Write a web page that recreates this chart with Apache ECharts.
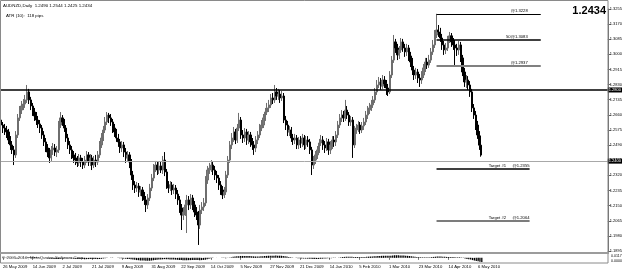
<!DOCTYPE html>
<html><head><meta charset="utf-8">
<script src="https://cdn.jsdelivr.net/npm/echarts@6/dist/echarts.min.js"></script>
<style>html,body{margin:0;padding:0;background:#fff}#c{width:625px;height:271px}</style>
</head><body><div id="c"></div>
<script>
const symbolTitle = 'AUDNZD,Daily';
const lastQuote = ['1.2490', '1.2544', '1.2425', '1.2434'];
const atrText = 'ATR (10):  118 pips';
const copyrightText = '\u00a9 2001-2010, MetaQuotes Software Corp.';
const tickLabels = ['26 May 2009','14 Jun 2009','2 Jul 2009','21 Jul 2009','9 Aug 2009','31 Aug 2009','22 Sep 2009','14 Oct 2009','5 Nov 2009','27 Nov 2009','21 Dec 2009','14 Jan 2010','5 Feb 2010','1 Mar 2010','23 Mar 2010','14 Apr 2010','6 May 2010'];
const opens = [
1.2631,1.2603,1.2586,1.2575,1.2564,1.2519,1.2491,1.2463,1.2435,1.2547,
1.2643,1.2687,1.2710,1.2721,1.2744,1.2789,1.2744,1.2710,1.2676,1.2654,
1.2631,1.2609,1.2586,1.2547,1.2508,1.2474,1.2451,1.2418,1.2463,1.2474,
1.2451,1.2463,1.2603,1.2643,1.2620,1.2586,1.2530,1.2491,1.2463,1.2435,
1.2418,1.2406,1.2390,1.2418,1.2395,1.2378,1.2406,1.2435,1.2395,1.2418,
1.2378,1.2406,1.2395,1.2435,1.2491,1.2530,1.2575,1.2620,1.2659,1.2643,
1.2620,1.2586,1.2564,1.2530,1.2508,1.2474,1.2491,1.2451,1.2418,1.2435,
1.2395,1.2322,1.2266,1.2249,1.2260,1.2227,1.2238,1.2204,1.2182,1.2154,
1.2193,1.2249,1.2305,1.2361,1.2378,1.2350,1.2373,1.2350,1.2406,1.2339,
1.2266,1.2249,1.2266,1.2238,1.2249,1.2215,1.2182,1.2137,1.2097,1.2114,
1.2154,1.2182,1.2154,1.2193,1.2154,1.2114,1.2097,1.2041,1.2125,1.2142,
1.2165,1.2294,1.2350,1.2361,1.2378,1.2350,1.2322,1.2305,1.2266,1.2238,
1.2210,1.2227,1.2322,1.2406,1.2491,1.2530,1.2564,1.2519,1.2586,1.2631,
1.2547,1.2530,1.2564,1.2519,1.2547,1.2508,1.2491,1.2474,1.2519,1.2547,
1.2586,1.2603,1.2643,1.2676,1.2699,1.2716,1.2755,1.2744,1.2789,1.2766,
1.2777,1.2755,1.2766,1.2631,1.2603,1.2564,1.2575,1.2530,1.2519,1.2530,
1.2491,1.2519,1.2502,1.2530,1.2491,1.2519,1.2508,1.2463,1.2378,1.2406,
1.2435,1.2463,1.2502,1.2519,1.2491,1.2474,1.2508,1.2463,1.2491,1.2519,
1.2508,1.2547,1.2603,1.2643,1.2659,1.2643,1.2687,1.2659,1.2620,1.2631,
1.2491,1.2575,1.2586,1.2603,1.2575,1.2598,1.2620,1.2659,1.2687,1.2699,
1.2716,1.2744,1.2789,1.2828,1.2845,1.2822,1.2856,1.2834,1.2811,1.2789,
1.2884,1.2968,1.3070,1.3036,1.2997,1.3025,1.3070,1.3036,1.3014,1.3036,
1.2991,1.2957,1.2912,1.2884,1.2901,1.2867,1.2856,1.2884,1.2924,1.2957,
1.2940,1.2968,1.3014,1.3053,1.3109,1.3137,1.3126,1.3092,1.3053,1.3025,
1.3036,1.3081,1.3104,1.3070,1.3053,1.3036,1.3025,1.3053,1.2980,1.2901,
1.2845,1.2856,1.2828,1.2789,1.2699,1.2659,1.2603,1.2547,1.2490];
const highs = [
1.2659,1.2620,1.2609,1.2598,1.2581,1.2541,1.2513,1.2485,1.2569,1.2665,
1.2710,1.2738,1.2749,1.2772,1.2828,1.2806,1.2761,1.2727,1.2699,1.2676,
1.2654,1.2631,1.2603,1.2569,1.2530,1.2496,1.2474,1.2485,1.2502,1.2496,
1.2485,1.2626,1.2676,1.2659,1.2637,1.2603,1.2553,1.2513,1.2485,1.2457,
1.2446,1.2429,1.2440,1.2435,1.2418,1.2429,1.2457,1.2451,1.2440,1.2435,
1.2429,1.2435,1.2457,1.2513,1.2558,1.2598,1.2648,1.2676,1.2671,1.2665,
1.2637,1.2609,1.2581,1.2553,1.2525,1.2513,1.2508,1.2474,1.2457,1.2451,
1.2412,1.2345,1.2288,1.2283,1.2277,1.2260,1.2255,1.2227,1.2204,1.2215,
1.2272,1.2328,1.2384,1.2401,1.2395,1.2395,1.2395,1.2429,1.2451,1.2356,
1.2288,1.2288,1.2283,1.2272,1.2266,1.2238,1.2204,1.2159,1.2142,1.2182,
1.2210,1.2204,1.2215,1.2210,1.2176,1.2142,1.2120,1.2154,1.2170,1.2193,
1.2316,1.2373,1.2390,1.2406,1.2395,1.2373,1.2345,1.2322,1.2288,1.2260,
1.2255,1.2345,1.2429,1.2513,1.2558,1.2592,1.2581,1.2609,1.2671,1.2648,
1.2575,1.2586,1.2581,1.2569,1.2564,1.2530,1.2513,1.2541,1.2569,1.2609,
1.2631,1.2665,1.2699,1.2727,1.2744,1.2777,1.2783,1.2828,1.2811,1.2806,
1.2800,1.2794,1.2783,1.2654,1.2626,1.2598,1.2592,1.2553,1.2553,1.2547,
1.2536,1.2541,1.2553,1.2547,1.2541,1.2541,1.2525,1.2480,1.2429,1.2457,
1.2485,1.2525,1.2547,1.2541,1.2513,1.2530,1.2525,1.2513,1.2541,1.2541,
1.2569,1.2626,1.2665,1.2687,1.2682,1.2744,1.2710,1.2676,1.2654,1.2648,
1.2598,1.2609,1.2626,1.2620,1.2620,1.2643,1.2682,1.2710,1.2727,1.2744,
1.2766,1.2811,1.2856,1.2873,1.2867,1.2884,1.2878,1.2856,1.2834,1.2906,
1.2991,1.3109,1.3087,1.3059,1.3047,1.3092,1.3087,1.3059,1.3059,1.3053,
1.3014,1.2980,1.2935,1.2924,1.2918,1.2890,1.2906,1.2946,1.2980,1.2980,
1.2997,1.3036,1.3081,1.3137,1.3228,1.3165,1.3149,1.3115,1.3075,1.3064,
1.3104,1.3126,1.3120,1.3092,1.3081,1.3059,1.3075,1.3070,1.2997,1.2924,
1.2884,1.2878,1.2850,1.2806,1.2721,1.2682,1.2626,1.2569,1.2544];
const lows = [
1.2564,1.2558,1.2547,1.2530,1.2496,1.2463,1.2440,1.2378,1.2418,1.2530,
1.2626,1.2665,1.2687,1.2699,1.2727,1.2721,1.2687,1.2654,1.2626,1.2603,
1.2586,1.2558,1.2525,1.2485,1.2451,1.2423,1.2390,1.2401,1.2435,1.2429,
1.2423,1.2446,1.2586,1.2598,1.2564,1.2508,1.2468,1.2440,1.2412,1.2390,
1.2378,1.2367,1.2373,1.2367,1.2356,1.2361,1.2390,1.2373,1.2373,1.2350,
1.2361,1.2367,1.2378,1.2418,1.2474,1.2513,1.2558,1.2603,1.2614,1.2598,
1.2558,1.2536,1.2508,1.2480,1.2446,1.2451,1.2423,1.2390,1.2395,1.2361,
1.2294,1.2238,1.2221,1.2227,1.2199,1.2204,1.2176,1.2154,1.2114,1.2131,
1.2176,1.2232,1.2288,1.2339,1.2322,1.2328,1.2333,1.2328,1.2316,1.2244,
1.2221,1.2232,1.2210,1.2215,1.2187,1.2154,1.2109,1.2013,1.2069,1.2092,
1.1996,1.2125,1.2131,1.2125,1.2086,1.2069,1.1929,1.2019,1.2103,1.2120,
1.2148,1.2272,1.2328,1.2339,1.2322,1.2294,1.2277,1.2238,1.2210,1.2187,
1.2193,1.2210,1.2305,1.2390,1.2468,1.2508,1.2496,1.2502,1.2569,1.2525,
1.2502,1.2508,1.2491,1.2496,1.2480,1.2463,1.2435,1.2451,1.2496,1.2530,
1.2569,1.2586,1.2626,1.2659,1.2676,1.2699,1.2721,1.2727,1.2744,1.2744,
1.2727,1.2738,1.2614,1.2575,1.2541,1.2541,1.2508,1.2491,1.2496,1.2468,
1.2468,1.2474,1.2480,1.2463,1.2468,1.2480,1.2440,1.2322,1.2356,1.2384,
1.2412,1.2446,1.2485,1.2463,1.2446,1.2457,1.2435,1.2440,1.2468,1.2480,
1.2485,1.2530,1.2586,1.2620,1.2620,1.2626,1.2637,1.2598,1.2598,1.2418,
1.2474,1.2553,1.2564,1.2553,1.2558,1.2575,1.2603,1.2637,1.2665,1.2682,
1.2699,1.2727,1.2772,1.2811,1.2800,1.2806,1.2811,1.2772,1.2766,1.2777,
1.2867,1.2952,1.3008,1.2968,1.2974,1.3008,1.3014,1.2986,1.2991,1.2963,
1.2929,1.2884,1.2856,1.2862,1.2839,1.2817,1.2834,1.2867,1.2901,1.2918,
1.2924,1.2952,1.2997,1.3036,1.3092,1.3098,1.3070,1.3025,1.2997,1.3002,
1.3019,1.3064,1.3042,1.3025,1.2940,1.2991,1.2997,1.2957,1.2878,1.2817,
1.2811,1.2800,1.2761,1.2676,1.2637,1.2575,1.2525,1.2463,1.2425];
const closes = [
1.2603,1.2586,1.2575,1.2564,1.2519,1.2491,1.2463,1.2435,1.2547,1.2643,
1.2687,1.2710,1.2721,1.2744,1.2789,1.2744,1.2710,1.2676,1.2654,1.2631,
1.2609,1.2586,1.2547,1.2508,1.2474,1.2451,1.2418,1.2463,1.2474,1.2451,
1.2463,1.2603,1.2643,1.2620,1.2586,1.2530,1.2491,1.2463,1.2435,1.2418,
1.2406,1.2390,1.2418,1.2395,1.2378,1.2406,1.2435,1.2395,1.2418,1.2378,
1.2406,1.2395,1.2435,1.2491,1.2530,1.2575,1.2620,1.2659,1.2643,1.2620,
1.2586,1.2564,1.2530,1.2508,1.2474,1.2491,1.2451,1.2418,1.2435,1.2395,
1.2322,1.2266,1.2249,1.2260,1.2227,1.2238,1.2204,1.2182,1.2154,1.2193,
1.2249,1.2305,1.2361,1.2378,1.2350,1.2373,1.2350,1.2406,1.2339,1.2266,
1.2249,1.2266,1.2238,1.2249,1.2215,1.2182,1.2137,1.2097,1.2114,1.2154,
1.2182,1.2154,1.2193,1.2154,1.2114,1.2097,1.2041,1.2125,1.2142,1.2165,
1.2294,1.2350,1.2361,1.2378,1.2350,1.2322,1.2305,1.2266,1.2238,1.2210,
1.2227,1.2322,1.2406,1.2491,1.2530,1.2564,1.2519,1.2586,1.2631,1.2547,
1.2530,1.2564,1.2519,1.2547,1.2508,1.2491,1.2474,1.2519,1.2547,1.2586,
1.2603,1.2643,1.2676,1.2699,1.2716,1.2755,1.2744,1.2789,1.2766,1.2777,
1.2755,1.2766,1.2631,1.2603,1.2564,1.2575,1.2530,1.2519,1.2530,1.2491,
1.2519,1.2502,1.2530,1.2491,1.2519,1.2508,1.2463,1.2378,1.2406,1.2435,
1.2463,1.2502,1.2519,1.2491,1.2474,1.2508,1.2463,1.2491,1.2519,1.2508,
1.2547,1.2603,1.2643,1.2659,1.2643,1.2687,1.2659,1.2620,1.2631,1.2491,
1.2575,1.2586,1.2603,1.2575,1.2598,1.2620,1.2659,1.2687,1.2699,1.2716,
1.2744,1.2789,1.2828,1.2845,1.2822,1.2856,1.2834,1.2811,1.2789,1.2884,
1.2968,1.3070,1.3036,1.2997,1.3025,1.3070,1.3036,1.3014,1.3036,1.2991,
1.2957,1.2912,1.2884,1.2901,1.2867,1.2856,1.2884,1.2924,1.2957,1.2940,
1.2968,1.3014,1.3053,1.3109,1.3137,1.3126,1.3092,1.3053,1.3025,1.3036,
1.3081,1.3104,1.3070,1.3053,1.3036,1.3025,1.3053,1.2980,1.2901,1.2845,
1.2856,1.2828,1.2789,1.2699,1.2659,1.2603,1.2547,1.2490,1.2434];
const histogram = [
0.0008,0.0007,0.0005,0.0003,0.0001,-0.0002,-0.0004,-0.0006,-0.0005,-0.0002,
0.0001,0.0004,0.0007,0.0010,0.0013,0.0014,0.0014,0.0013,0.0011,0.0009,
0.0006,0.0003,0.0000,-0.0004,-0.0008,-0.0011,-0.0014,-0.0015,-0.0016,-0.0016,
-0.0016,-0.0012,-0.0008,-0.0006,-0.0005,-0.0006,-0.0008,-0.0010,-0.0012,-0.0014,
-0.0016,-0.0018,-0.0019,-0.0019,-0.0020,-0.0020,-0.0019,-0.0019,-0.0018,-0.0019,
-0.0019,-0.0019,-0.0018,-0.0015,-0.0011,-0.0007,-0.0003,0.0001,0.0003,0.0004,
0.0003,0.0001,-0.0002,-0.0005,-0.0008,-0.0010,-0.0013,-0.0016,-0.0018,-0.0021,
-0.0026,-0.0031,-0.0035,-0.0037,-0.0040,-0.0041,-0.0043,-0.0044,-0.0046,-0.0045,
-0.0042,-0.0038,-0.0033,-0.0029,-0.0027,-0.0025,-0.0023,-0.0020,-0.0020,-0.0022,
-0.0024,-0.0025,-0.0027,-0.0028,-0.0030,-0.0032,-0.0035,-0.0038,-0.0039,-0.0038,
-0.0036,-0.0035,-0.0033,-0.0032,-0.0033,-0.0034,-0.0037,-0.0035,-0.0032,-0.0029,
-0.0022,-0.0014,-0.0008,-0.0003,0.0000,0.0001,0.0001,0.0000,-0.0002,-0.0004,
-0.0005,-0.0002,0.0004,0.0011,0.0017,0.0022,0.0024,0.0027,0.0030,0.0030,
0.0030,0.0030,0.0029,0.0028,0.0026,0.0024,0.0022,0.0022,0.0023,0.0025,
0.0027,0.0029,0.0031,0.0033,0.0034,0.0035,0.0035,0.0036,0.0035,0.0034,
0.0033,0.0031,0.0026,0.0020,0.0014,0.0009,0.0004,0.0000,-0.0003,-0.0006,
-0.0008,-0.0009,-0.0010,-0.0011,-0.0012,-0.0012,-0.0013,-0.0016,-0.0018,-0.0018,
-0.0017,-0.0015,-0.0013,-0.0011,-0.0009,-0.0008,-0.0007,-0.0005,-0.0003,-0.0001,
0.0002,0.0006,0.0010,0.0013,0.0015,0.0018,0.0019,0.0019,0.0019,0.0014,
0.0013,0.0013,0.0013,0.0013,0.0014,0.0015,0.0017,0.0019,0.0021,0.0023,
0.0025,0.0027,0.0029,0.0031,0.0032,0.0033,0.0034,0.0034,0.0033,0.0035,
0.0038,0.0041,0.0041,0.0040,0.0039,0.0038,0.0036,0.0034,0.0032,0.0029,
0.0026,0.0022,0.0018,0.0015,0.0012,0.0009,0.0008,0.0008,0.0009,0.0010,
0.0011,0.0013,0.0015,0.0018,0.0020,0.0021,0.0020,0.0019,0.0017,0.0015,
0.0014,0.0014,0.0013,0.0012,0.0011,0.0010,0.0009,0.0005,-0.0002,-0.0010,
-0.0016,-0.0021,-0.0027,-0.0035,-0.0042,-0.0049,-0.0055,-0.0060,-0.0064];
const indicatorScaleLabels = ['0.0117', '0.0000'];
const keyLevel = 1.2763;
const bidPrice = 1.2434;
const fibLevels = [1.3228, 1.3083, 1.2937];
const fibNames = ['', '50', ''];
const targetLevels = [1.2355, 1.2064];
const targetNames = ['Target #1', 'Target #2'];
const anchorBar = 234;      // bar of the swing high the levels start from
const fibEndBar = 290;
const targetEndBar = 284;
const slotCount = 327;      // bar slots incl. empty right margin
const priceMin = 1.1895, priceMax = 1.3255, priceStep = 0.0085;

const FONT = 'Liberation Sans, Arial, sans-serif';
const fibStyles = [
  {color:'#000', width:1, type:'solid'},
  {color:'#000', width:1.5, type:'solid'},
  {color:'#808080', width:2, type:'solid'}
];
const targetStyles = [
  {color:'#000', width:1.5, type:'solid'},
  {color:'#505050', width:1.5, type:'solid'}
];

const chart = echarts.init(document.getElementById('c'), null, {renderer:'canvas'});
const cats = Array.from({length: slotCount}, (_, i) => String(i));
const candle = opens.map((o, i) => [o, closes[i], lows[i], highs[i]]);

const segs = [];
fibLevels.forEach((v, i) => segs.push([{coord:[String(anchorBar), v], lineStyle: fibStyles[i]}, {coord:[String(fibEndBar), v]}]));
targetLevels.forEach((v, i) => segs.push([{coord:[String(anchorBar), v], lineStyle: targetStyles[i]}, {coord:[String(targetEndBar), v]}]));

const boxLabel = {
  show: true, position: 'end', distance: 0,
  formatter: p => p.value.toFixed(4),
  color: '#fff', backgroundColor: '#000', fontSize: 4, fontFamily: FONT,
  padding: [1, 1, 0, 1]
};

chart.setOption({
  animation: false,
  backgroundColor: '#fff',
  grid: [
    {left: 1, right: 17, top: 9, height: 242},
    {left: 1, right: 17, top: 255, height: 7}
  ],
  xAxis: [
    {type:'category', gridIndex:0, data: cats, boundaryGap:false, show:false},
    {type:'category', gridIndex:1, data: cats, boundaryGap:false,
     axisLine:{show:false},
     axisTick:{show:true, length:2, lineStyle:{color:'#777'}, interval: i => i % 16 === 0 && i / 16 < tickLabels.length},
     axisLabel:{show:true, fontSize:4.2, fontFamily:FONT, color:'#000', margin:3, align:'left',
       interval: i => i % 16 === 0 && i / 16 < tickLabels.length,
       formatter: (v, i) => tickLabels[i / 16] || ''}}
  ],
  yAxis: [
    {type:'value', gridIndex:0, position:'right', min: priceMin, max: priceMax, interval: priceStep,
     splitLine:{show:false},
     axisLine:{show:true, lineStyle:{color:'#666', width:1}},
     axisTick:{show:true, length:3, lineStyle:{color:'#666'}},
     axisLabel:{fontSize:4, fontFamily:FONT, color:'#000', margin:2, formatter: v => v.toFixed(4)}},
    {type:'value', gridIndex:1, min:-0.0065, max:0.0045, show:false}
  ],
  series: [
    {type:'candlestick', xAxisIndex:0, yAxisIndex:0, data: candle, barWidth: 1.7,
     itemStyle:{color:'#7a7a7a', color0:'#000', borderColor:'#6e6e6e', borderColor0:'#000', borderWidth:1},
     markLine:{
       silent:true, symbol:['none','none'],
       label:{show:false},
       data: [
         {yAxis: keyLevel, lineStyle:{color:'#000', width:1.5, type:'solid'}, label: boxLabel},
         {yAxis: bidPrice, lineStyle:{color:'#a8a8a8', width:1, type:'solid'}, label: boxLabel},
         ...segs
       ]
     }},
    {type:'bar', xAxisIndex:1, yAxisIndex:1, data: histogram, barWidth:1.3, itemStyle:{color:'#000'}}
  ]
});

const px = (bar, v) => chart.convertToPixel({xAxisIndex:0, yAxisIndex:0}, [String(bar), v]);
const txt = (x, y, text, size, align, vAlign, extra) => ({
  type:'text', x, y, silent:true, z:50,
  style: Object.assign({text, fill:'#000', fontSize:size, fontFamily:FONT, fontWeight:'normal',
    align, verticalAlign: vAlign}, extra || {})
});
const g = [
  {type:'rect', silent:true, z:40, shape:{x:0.5, y:0.5, width:607.5, height:262.5}, style:{fill:'none', stroke:'#8a8a8a', lineWidth:1}},
  {type:'rect', silent:true, z:41, shape:{x:0, y:252, width:609, height:2}, style:{fill:'#9c9c9c'}},
  txt(3, 6, symbolTitle + '  ' + lastQuote.join(' '), 4.4, 'left', 'middle'),
  txt(6, 15.5, atrText, 4.4, 'left', 'middle'),
  txt(606, 10.5, lastQuote[3], 11, 'right', 'middle', {fontWeight:'bold'}),
  txt(2, 257.5, copyrightText, 4.4, 'left', 'middle', {fill:'#333'}),
  txt(611, 255.5, indicatorScaleLabels[0], 3.6, 'left', 'middle'),
  txt(611, 260.5, indicatorScaleLabels[1], 3.6, 'left', 'middle')
];
fibLevels.forEach((v, i) => {
  const p = px(283, v);
  g.push(txt(p[0], p[1] - 1, fibNames[i] + '@' + v.toFixed(4), 4.2, 'right', 'bottom'));
});
targetLevels.forEach((v, i) => {
  const p1 = px(262, v), p2 = px(284, v);
  g.push(txt(p1[0], p1[1] - 1, targetNames[i], 4.2, 'left', 'bottom'));
  g.push(txt(p2[0], p2[1] - 1, '@' + v.toFixed(4), 4.2, 'right', 'bottom'));
});
chart.setOption({graphic: g});
</script>
</body></html>
